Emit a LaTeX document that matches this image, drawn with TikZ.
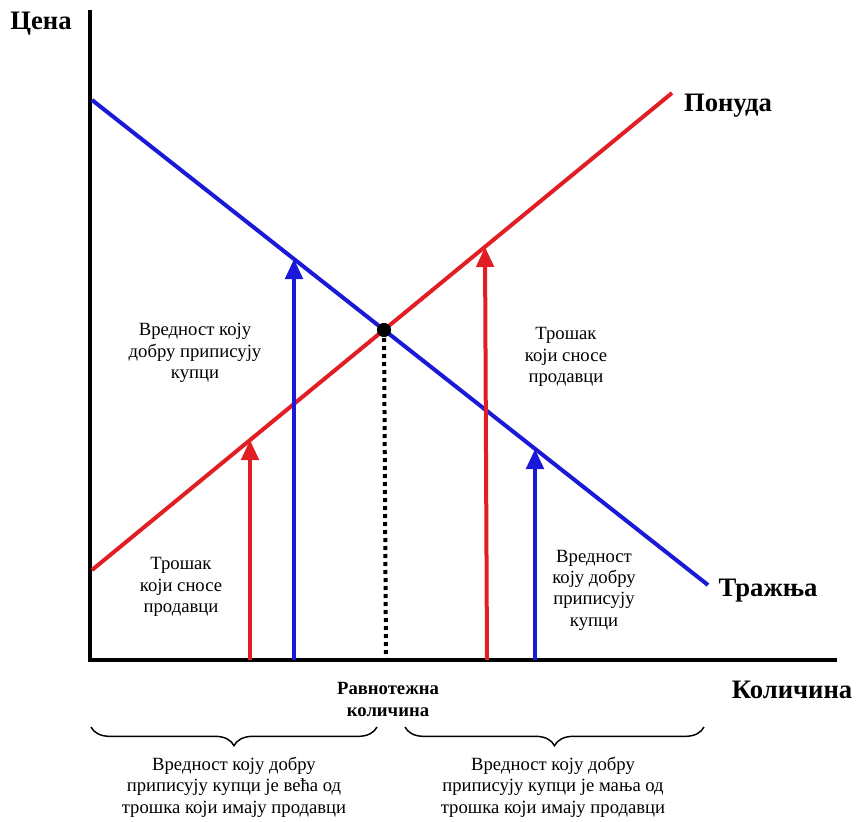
\documentclass[tikz,border=0pt]{standalone}
\usepackage{fontspec}
\setmainfont{Liberation Serif}
\usetikzlibrary{arrows.meta,decorations.pathreplacing}
\definecolor{supred}{RGB}{225,30,35}
\definecolor{demblue}{RGB}{25,25,215}
\tikzset{
  axisline/.style={line width=3pt,line join=miter},
  curvered/.style={line width=3pt,supred},
  curveblue/.style={line width=3pt,demblue},
  uparrow/.style={line width=3pt,-{Triangle[length=15pt,width=13pt]}},
  biglabel/.style={font=\fontsize{20}{24}\selectfont\bfseries,inner sep=0pt},
  smalllabel/.style={font=\fontsize{14}{16}\selectfont,align=center,inner sep=0pt},
  eqlabel/.style={font=\fontsize{14}{16.5}\selectfont\bfseries,align=center,inner sep=0pt},
  bracestyle/.style={line width=1.1pt,decorate,decoration={brace,amplitude=14pt}},
}
\begin{document}
\begin{tikzpicture}[x=0.75pt,y=-0.75pt]
\useasboundingbox (0,0) rectangle (856,821);
% axes
\coordinate (ytop) at (90,10);
\coordinate (orig) at (90,660);
\coordinate (xend) at (837,660);
\draw[axisline] (ytop) -- (orig) -- (xend);
% curves
\coordinate (d1) at (92,100);
\coordinate (d2) at (708,585);
\coordinate (s1) at (92,570);
\coordinate (s2) at (672,93);
\draw[curveblue] (d1) -- (d2);
\draw[curvered] (s1) -- (s2);
% equilibrium
\coordinate (eq) at (384,330);
\coordinate (eqb) at (386,658);
\draw[line width=3pt,dash pattern=on 3pt off 3pt] (eq) -- (eqb);
\fill (eq) circle (5.3pt);
% arrows
\coordinate (r1b) at (250,660); \coordinate (r1t) at (250,440);
\coordinate (b1b) at (294,660); \coordinate (b1t) at (294,259);
\coordinate (r2b) at (487,660); \coordinate (r2t) at (485,247);
\coordinate (b2b) at (535,660); \coordinate (b2t) at (535,449);
\draw[uparrow,supred] (r1b) -- (r1t);
\draw[uparrow,demblue] (b1b) -- (b1t);
\draw[uparrow,supred] (r2b) -- (r2t);
\draw[uparrow,demblue] (b2b) -- (b2t);
% labels
\node[biglabel] (cena) at (41,24) {Цена};
\node[biglabel] (ponuda) at (728,106) {Понуда};
\node[biglabel] (trazhnja) at (768,591) {Тражња};
\node[biglabel] (kolicina) at (792,690) {Количина};
\node[eqlabel] (ravno) at (388,699) {Равнотежна\\количина};
\node[smalllabel] (vl) at (195,353) {Вредност коју\\добру приписују\\купци};
\node[smalllabel] (tl) at (181,587) {Трошак\\који сносе\\продавци};
\node[smalllabel] (tr) at (566,357) {Трошак\\који сносе\\продавци};
\node[smalllabel] (vr) at (594,590) {Вредност\\коју добру\\приписују\\купци};
% braces
\coordinate (bl1) at (91,727); \coordinate (bl2) at (377,727);
\coordinate (br1) at (405,727); \coordinate (br2) at (704,727);
\draw[bracestyle] (bl2) -- (bl1);
\draw[bracestyle] (br2) -- (br1);
\node[smalllabel] (bot1) at (234,787) {Вредност коју добру\\приписују купци је већа од\\трошка који имају продавци};
\node[smalllabel] (bot2) at (553,787) {Вредност коју добру\\приписују купци је мања од\\трошка који имају продавци};
\end{tikzpicture}
\end{document}
